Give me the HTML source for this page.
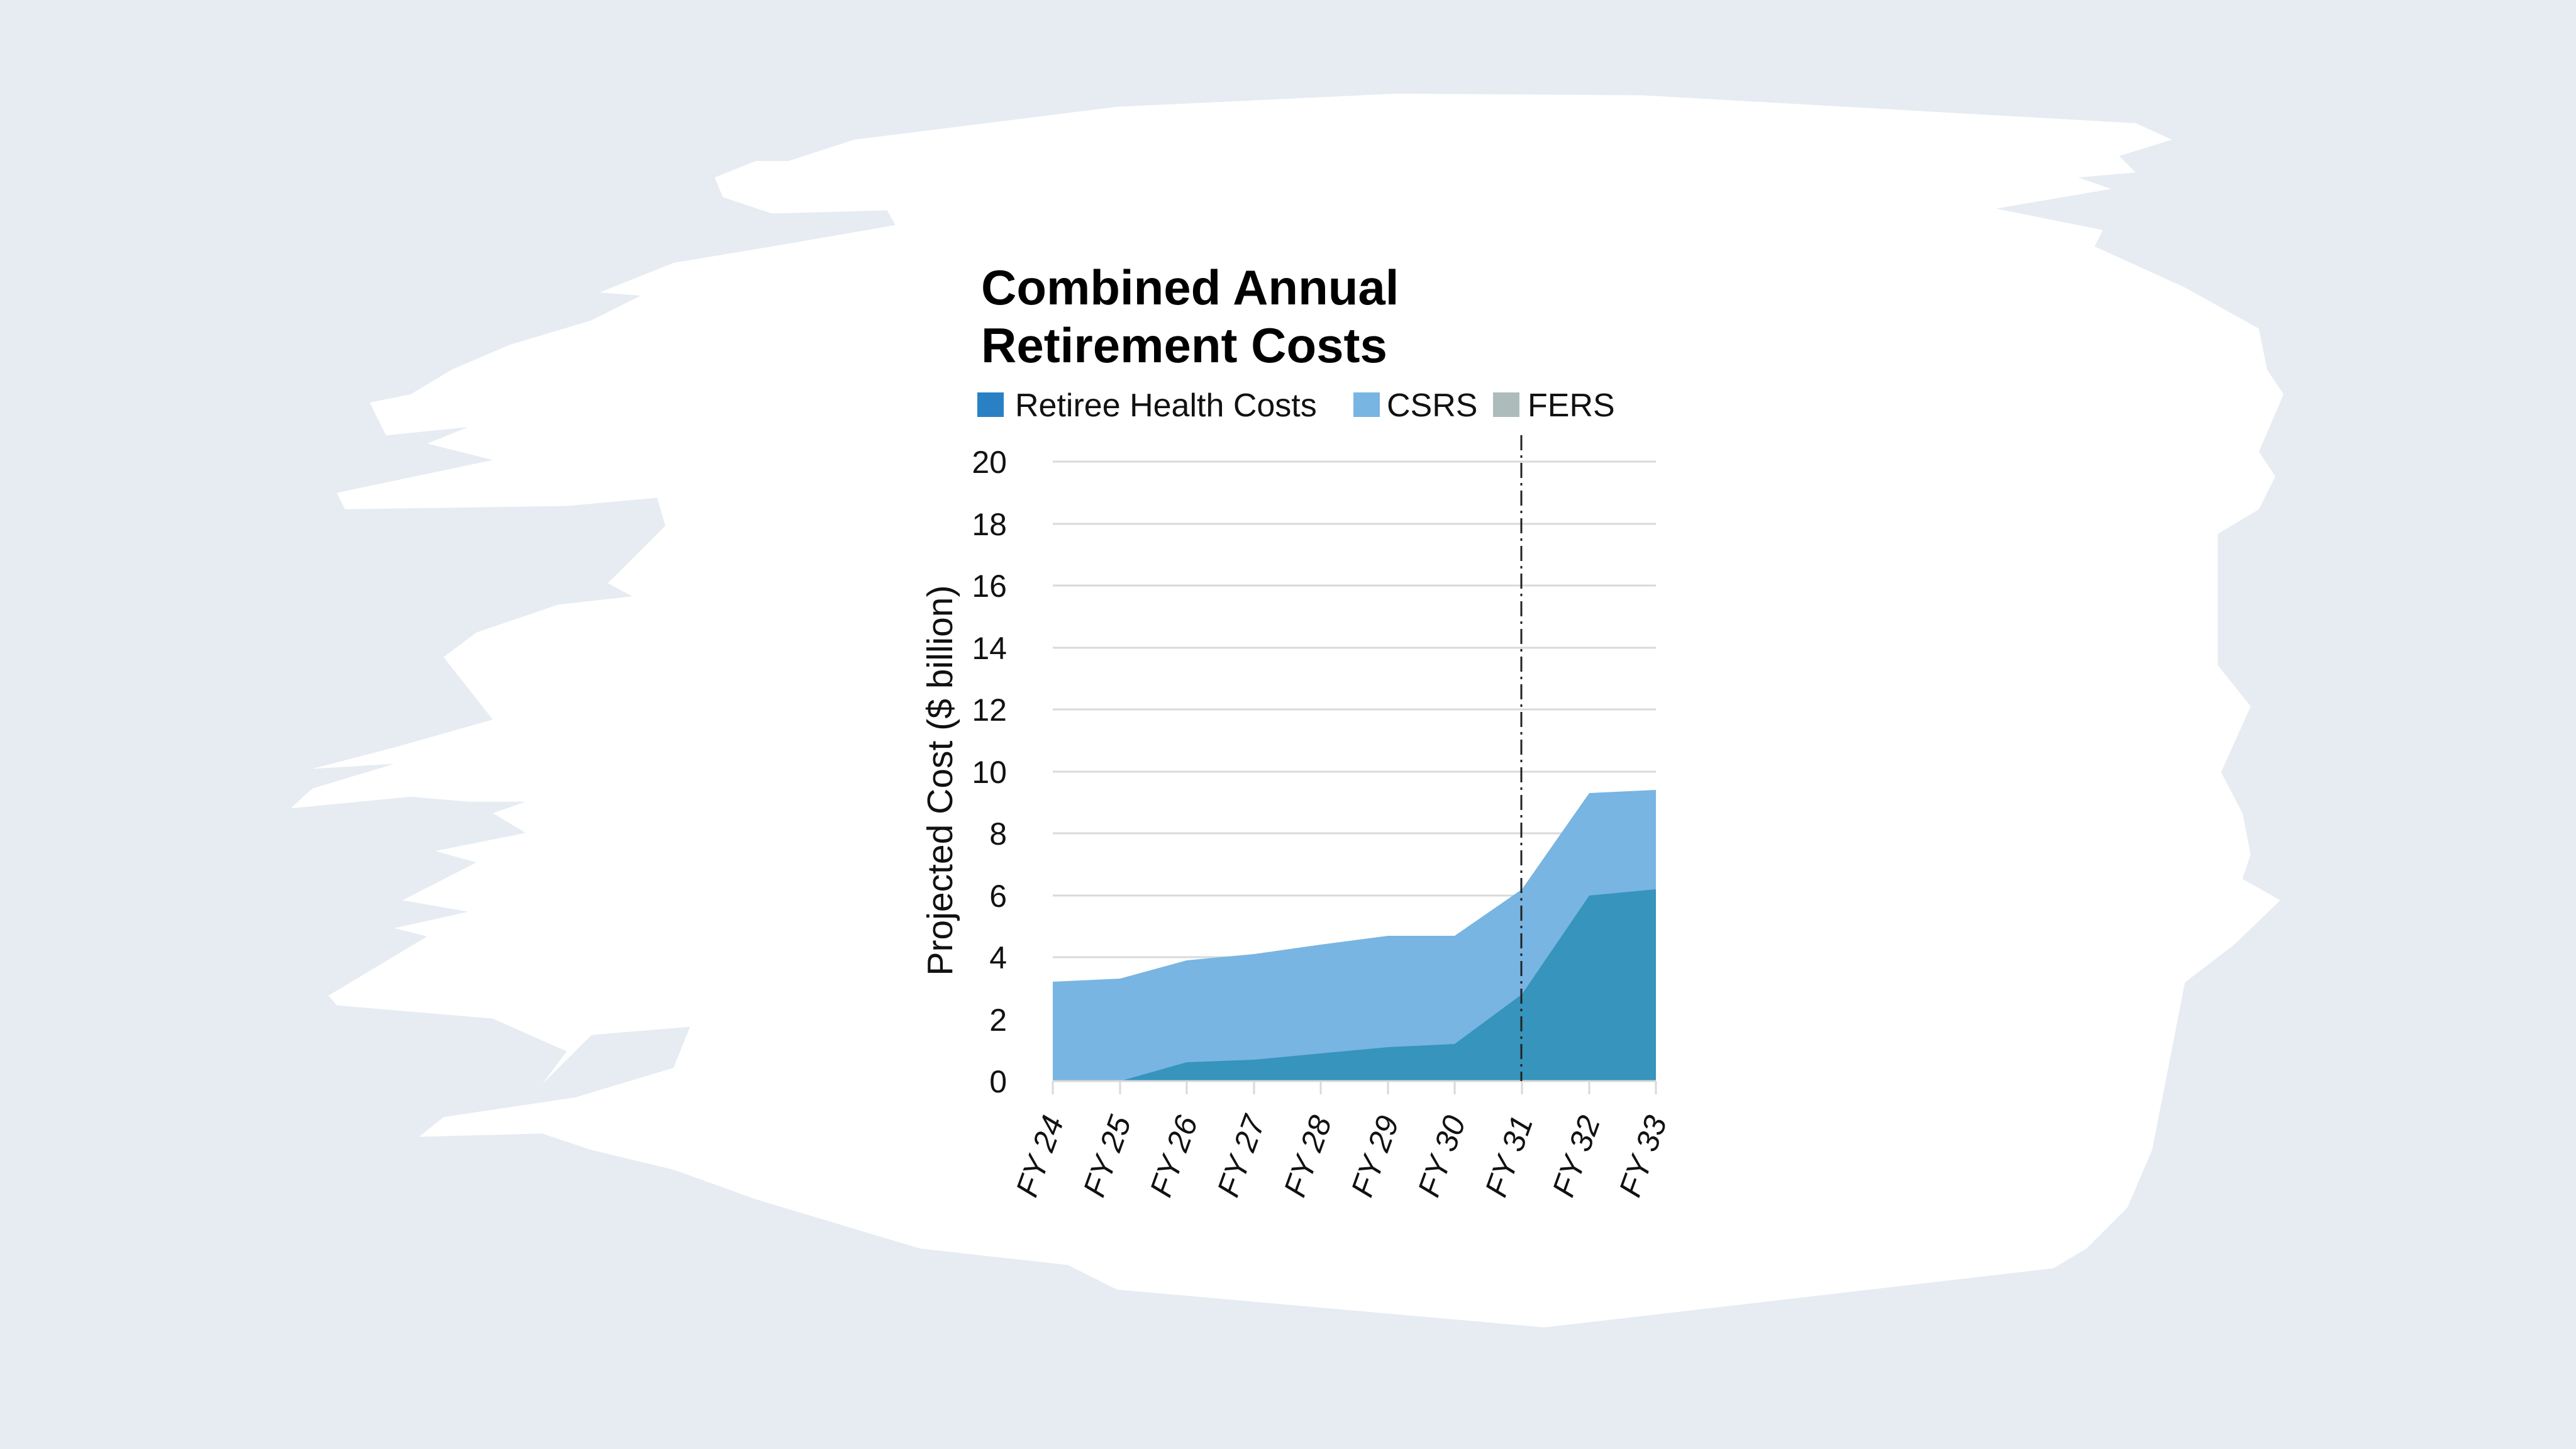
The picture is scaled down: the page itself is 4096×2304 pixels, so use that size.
<!DOCTYPE html>
<html><head><meta charset="utf-8"><style>
html,body{margin:0;padding:0;background:#e6ecf2;}
svg{display:block}
</style></head><body>
<svg width="4096" height="2304" viewBox="0 0 4096 2304" xmlns="http://www.w3.org/2000/svg">
<rect width="4096" height="2304" fill="#e6ecf2"/>
<g transform="scale(2.6122)">
<path fill="#ffffff" d="M480,98 L520,85 L680,65 L850,57 L1000,58 L1300,75 L1322,85 L1290,95 L1300,105 L1265,108 L1285,115 L1215,127 L1280,140 L1275,150 L1330,175 L1375,200 L1380,225 L1390,240 L1375,275 L1385,290 L1375,310 L1350,325 L1350,405 L1370,430 L1352,470 L1365,495 L1370,520 L1365,535 L1388,548 L1360,575 L1330,598 L1310,700 L1295,735 L1270,760 L1250,772 L940,808 L680,785 L650,770 L560,760 L460,730 L410,712 L360,700 L330,690 L255,692 L270,680 L350,668 L410,650 L420,625 L360,630 L330,660 L345,640 L300,620 L205,612 L200,606 L260,570 L240,565 L285,555 L245,548 L290,525 L265,518 L320,507 L300,495 L320,488 L285,488 L250,485 L177,492 L190,480 L240,465 L190,468 L240,455 L300,438 L270,400 L290,385 L340,368 L385,363 L370,355 L405,320 L400,303 L345,308 L210,310 L205,300 L300,280 L260,270 L285,260 L235,265 L225,245 L250,240 L275,225 L310,210 L360,195 L390,180 L365,178 L410,160 L470,150 L545,137 L540,128 L470,130 L440,120 L435,108 L460,98 Z"/>
</g>
<g font-family="'Liberation Sans', sans-serif">
<text x="1560" y="484" font-size="78" font-weight="bold" fill="#000">Combined Annual</text>
<text x="1560" y="576" font-size="78" font-weight="bold" fill="#000">Retirement Costs</text>
<rect x="1554" y="624" width="42" height="39" fill="#2a80c4"/>
<text x="1614" y="662" font-size="52" fill="#111">Retiree Health Costs</text>
<rect x="2152" y="624" width="42" height="39" fill="#78b5e2"/>
<text x="2205" y="662" font-size="52" fill="#111">CSRS</text>
<rect x="2374" y="624" width="42" height="39" fill="#aebbbb"/>
<text x="2429" y="662" font-size="52" fill="#111">FERS</text>
<g stroke="#d9d9d9" stroke-width="3">
<line x1="1674" x2="2633" y1="1621" y2="1621"/><line x1="1674" x2="2633" y1="1522" y2="1522"/>
<line x1="1674" x2="2633" y1="1424" y2="1424"/><line x1="1674" x2="2633" y1="1325" y2="1325"/>
<line x1="1674" x2="2633" y1="1227" y2="1227"/><line x1="1674" x2="2633" y1="1128" y2="1128"/>
<line x1="1674" x2="2633" y1="1030" y2="1030"/><line x1="1674" x2="2633" y1="931" y2="931"/>
<line x1="1674" x2="2633" y1="833" y2="833"/><line x1="1674" x2="2633" y1="734" y2="734"/>
</g>
<path fill="#78b5e2" d="M1674,1561 L1781,1556 L1887,1527 L1994,1517 L2100,1502 L2207,1488 L2313,1488 L2420,1414 L2527,1261 L2633,1256 L2633,1719 L1674,1719 Z"/>
<path fill="#3694bd" d="M1674,1719 L1781,1719 L1887,1689 L1994,1685 L2100,1675 L2207,1665 L2313,1660 L2420,1581 L2527,1424 L2633,1414 L2633,1719 Z"/>
<line x1="1674" x2="2633" y1="1719" y2="1719" stroke="#d9d9d9" stroke-width="3"/>
<g stroke="#d9d9d9" stroke-width="3">
<line x1="1674" x2="1674" y1="1719" y2="1740"/><line x1="1781" x2="1781" y1="1719" y2="1740"/>
<line x1="1887" x2="1887" y1="1719" y2="1740"/><line x1="1994" x2="1994" y1="1719" y2="1740"/>
<line x1="2100" x2="2100" y1="1719" y2="1740"/><line x1="2207" x2="2207" y1="1719" y2="1740"/>
<line x1="2313" x2="2313" y1="1719" y2="1740"/><line x1="2420" x2="2420" y1="1719" y2="1740"/>
<line x1="2527" x2="2527" y1="1719" y2="1740"/><line x1="2633" x2="2633" y1="1719" y2="1740"/>
</g>
<line x1="2419" x2="2419" y1="692" y2="1719" stroke="#222" stroke-width="3" stroke-dasharray="24,8,4,8"/>
<g font-size="50" fill="#111" text-anchor="end">
<text x="1601" y="1737">0</text><text x="1601" y="1639">2</text><text x="1601" y="1540">4</text>
<text x="1601" y="1442">6</text><text x="1601" y="1343">8</text><text x="1601" y="1245">10</text>
<text x="1601" y="1146">12</text><text x="1601" y="1048">14</text><text x="1601" y="949">16</text>
<text x="1601" y="851">18</text><text x="1601" y="752">20</text>
</g>
<text transform="translate(1514,1241) rotate(-90)" font-size="57" fill="#111" text-anchor="middle">Projected Cost ($ billion)</text>
<g font-size="50" font-style="italic" fill="#111" text-anchor="end">
<text transform="translate(1692,1782) rotate(-70)">FY 24</text>
<text transform="translate(1799,1782) rotate(-70)">FY 25</text>
<text transform="translate(1905,1782) rotate(-70)">FY 26</text>
<text transform="translate(2012,1782) rotate(-70)">FY 27</text>
<text transform="translate(2118,1782) rotate(-70)">FY 28</text>
<text transform="translate(2225,1782) rotate(-70)">FY 29</text>
<text transform="translate(2331,1782) rotate(-70)">FY 30</text>
<text transform="translate(2438,1782) rotate(-70)">FY 31</text>
<text transform="translate(2545,1782) rotate(-70)">FY 32</text>
<text transform="translate(2651,1782) rotate(-70)">FY 33</text>
</g>
</g>
</svg>
</body></html>
